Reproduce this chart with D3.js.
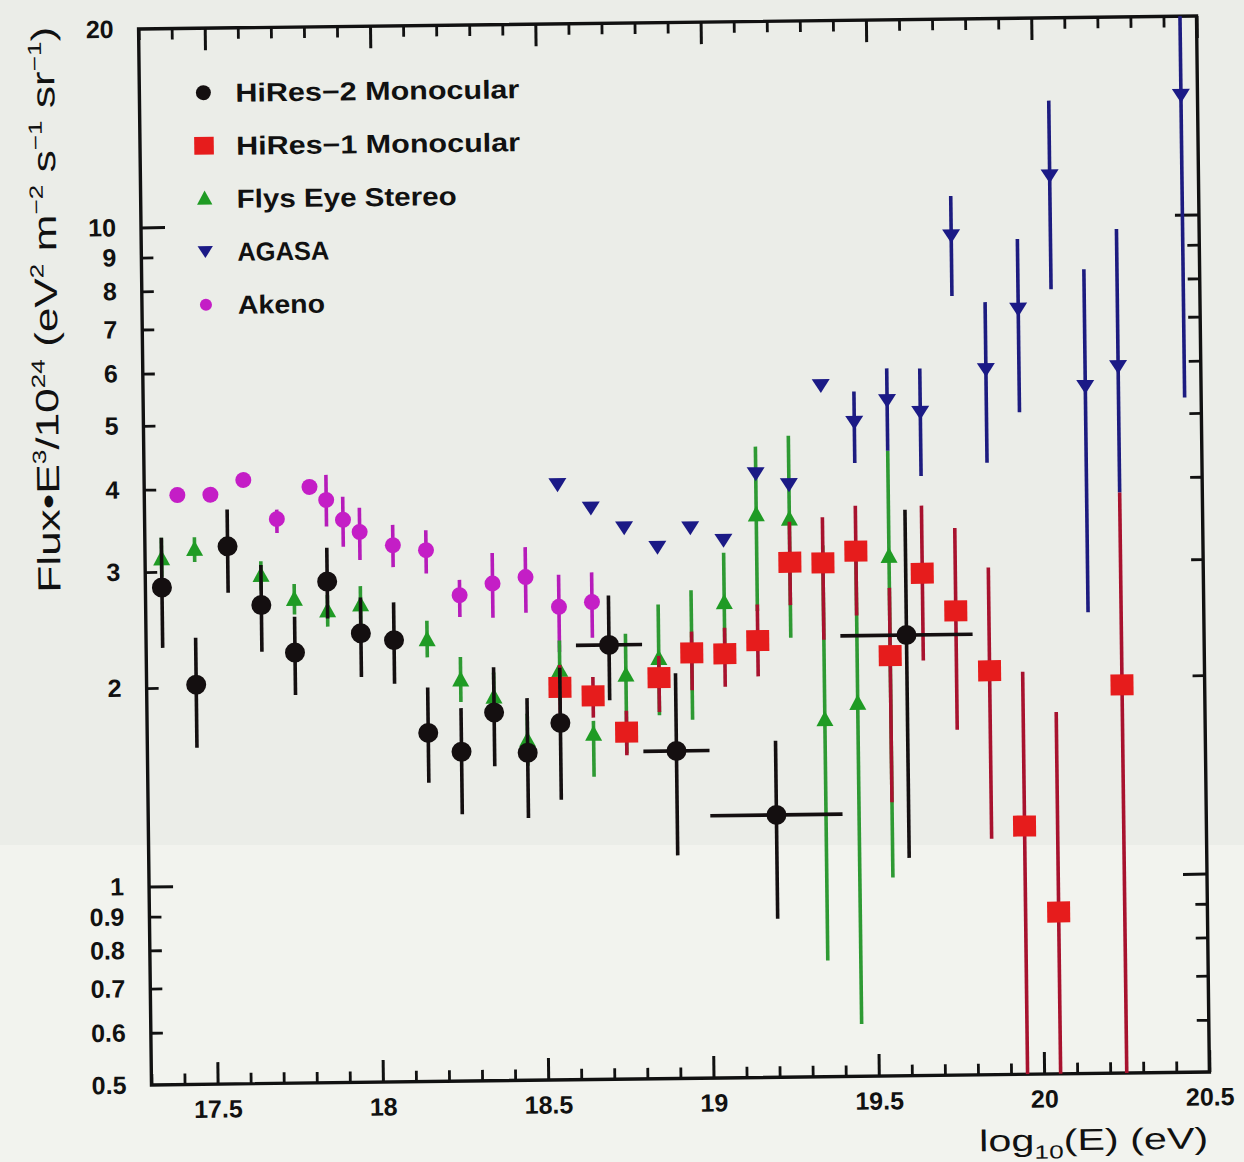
<!DOCTYPE html>
<html><head><meta charset="utf-8">
<script src="https://cdn.jsdelivr.net/npm/d3@7"></script>
<style>
html,body{margin:0;padding:0;background:#edefea;}
svg{display:block;}
text{font-family:"Liberation Sans",Arial,sans-serif;}
</style></head><body>
<svg id="chart" width="1244" height="1162"></svg>
<script>
// ---------------- DATA ----------------
// HiRes-2 Monocular (black circles)
const hr2X   = [17.35,17.45,17.55,17.65,17.75,17.85,17.95,18.05,18.15,18.25,18.35,18.45,18.55,18.7,18.9,19.2,19.6];
const hr2Y   = [2.84,2.02,3.27,2.66,2.25,2.88,2.40,2.34,1.69,1.58,1.81,1.57,1.74,2.28,1.57,1.25,2.33];
const hr2Lo  = [2.30,1.62,2.78,2.26,1.94,2.53,2.06,2.01,1.42,1.27,1.50,1.25,1.33,1.88,1.09,0.87,1.07];
const hr2Hi  = [3.38,2.38,3.72,3.06,2.55,3.24,2.72,2.67,1.98,1.84,2.12,1.90,2.11,2.71,2.06,1.62,3.61];
const hr2XErr= [0,0,0,0,0,0,0,0,0,0,0,0,0,0.1,0.1,0.2,0.2];

// HiRes-1 Monocular (red squares)
const hr1X  = [18.55,18.65,18.75,18.85,18.95,19.05,19.15,19.25,19.35,19.45,19.55,19.65,19.75,19.85,19.95,20.05,20.25];
const hr1Y  = [1.97,1.91,1.68,2.03,2.21,2.20,2.30,3.02,3.01,3.13,2.17,2.89,2.53,2.05,1.19,0.88,1.94];
const hr1Lo = [1.80,1.77,1.55,1.80,1.94,1.96,2.03,2.60,2.30,2.50,1.30,2.13,1.67,1.14,0.30,0.30,0.30];
const hr1Hi = [2.13,2.04,1.81,2.19,2.38,2.41,2.61,3.48,3.53,3.67,2.75,3.66,3.38,2.94,2.04,1.77,3.80];

// Fly's Eye Stereo (green triangles)
const feX  = [17.35,17.45,17.65,17.75,17.85,17.95,18.15,18.25,18.35,18.45,18.55,18.65,18.75,18.85,18.95,19.05,19.15,19.25,19.35,19.45,19.55];
const feY  = [3.14,3.24,2.95,2.71,2.60,2.65,2.34,2.03,1.91,1.64,2.09,1.67,2.05,2.17,2.20,2.63,3.57,3.51,1.74,1.84,3.07];
const feLo = [2.95,3.10,2.80,2.57,2.46,2.48,2.20,1.88,1.76,1.50,1.88,1.44,1.56,1.78,1.75,2.15,2.55,2.32,0.75,0.60,1.00];
const feHi = [3.38,3.38,3.10,2.86,2.75,2.83,2.50,2.20,2.08,1.80,2.32,1.75,2.37,2.62,2.75,3.13,4.53,4.70,3.20,3.09,4.44];

// AGASA (blue inverted triangles)
const agX  = [18.55,18.65,18.75,18.85,18.95,19.05,19.15,19.25,19.35,19.45,19.55,19.65,19.75,19.85,19.95,20.05,20.15,20.25,20.45];
const agY  = [4.00,3.68,3.43,3.20,3.42,3.27,4.12,3.96,5.59,4.91,5.29,5.07,9.38,5.87,7.24,11.52,5.51,5.90,15.17];
const agLo = [4.00,3.68,3.43,3.20,3.42,3.27,4.12,3.96,5.59,4.26,4.44,4.06,7.60,4.24,5.05,7.75,2.505,3.80,5.28];
const agHi = [4.00,3.68,3.43,3.20,3.42,3.27,4.12,3.96,5.59,5.47,5.92,5.91,10.78,7.43,9.25,14.98,8.30,9.54,30];

// Akeno (magenta)
const akX  = [17.4,17.5,17.6,17.7,17.8,17.85,17.9,17.95,18.05,18.15,18.25,18.35,18.45,18.55,18.65];
const akY  = [3.92,3.92,4.12,3.59,4.01,3.83,3.57,3.42,3.26,3.20,2.73,2.84,2.90,2.61,2.65];
const akLo = [3.92,3.92,4.12,3.42,4.01,3.49,3.25,3.10,3.02,2.95,2.53,2.52,2.56,2.23,2.34];
const akHi = [3.92,3.92,4.12,3.71,4.01,4.18,3.87,3.72,3.50,3.43,2.88,3.16,3.22,2.92,2.94];

// Axis ticks
const xMajorTicks = [17.5,18,18.5,19,19.5,20,20.5];
const xMinorTicks = [17.3,17.4,17.6,17.7,17.8,17.9,18.1,18.2,18.3,18.4,18.6,18.7,18.8,18.9,19.1,19.2,19.3,19.4,19.6,19.7,19.8,19.9,20.1,20.2,20.3,20.4];
const yLabelTicks = [0.5,0.6,0.7,0.8,0.9,1,2,3,4,5,6,7,8,9,10,20];
const yMajorTicks = [1,10];
const yMinorTicks = [0.6,0.7,0.8,0.9,2,3,4,5,6,7,8,9];

const legendLabels = ["HiRes\u22122 Monocular","HiRes\u22121 Monocular","Flys Eye Stereo","AGASA","Akeno"];

// ---------------- LAYOUT ----------------
const W=1244,H=1162;
const fr={left:145,right:1203,top:22.5,bottom:1078.5};
const svg=d3.select("#chart");
svg.append("rect").attr("width",W).attr("height",H).attr("fill","#ebede8");
svg.append("rect").attr("y",845).attr("width",W).attr("height",H-845).attr("fill","#f2f3ee");

const g=svg.append("g").attr("transform","rotate(-0.7,674,551)");

const x=d3.scaleLinear().domain([17.3,20.5]).range([fr.left,fr.right]);
const y=d3.scaleLog().domain([0.5,20]).range([fr.bottom,fr.top]);

g.append("clipPath").attr("id","clip").append("rect")
  .attr("x",fr.left).attr("y",fr.top).attr("width",fr.right-fr.left).attr("height",fr.bottom-fr.top);

const INK="#111";
function styleAxis(sel,fs){
  sel.select(".domain").remove();
  sel.attr("font-family",null).attr("font-size",null);
  sel.selectAll("line").attr("stroke",INK);
  sel.selectAll("text").attr("fill",INK).style("font-size",fs+"px").style("font-weight","bold");
}
// bottom
g.append("g").attr("transform",`translate(0,${fr.bottom})`)
 .call(d3.axisBottom(x).tickValues(xMajorTicks).tickSize(-22).tickPadding(11).tickFormat(d=>String(d)))
 .call(s=>{styleAxis(s,25);s.selectAll("line").attr("stroke-width",3);s.selectAll("text").attr("dy","0.9em");});
g.append("g").attr("transform",`translate(0,${fr.bottom})`)
 .call(d3.axisBottom(x).tickValues(xMinorTicks).tickSize(-11).tickFormat(""))
 .call(s=>{styleAxis(s,24);s.selectAll("line").attr("stroke-width",2.8);});
// top
g.append("g").attr("transform",`translate(0,${fr.top})`)
 .call(d3.axisTop(x).tickValues(xMajorTicks).tickSize(-22).tickFormat(""))
 .call(s=>{styleAxis(s,24);s.selectAll("line").attr("stroke-width",3);});
g.append("g").attr("transform",`translate(0,${fr.top})`)
 .call(d3.axisTop(x).tickValues(xMinorTicks).tickSize(-11).tickFormat(""))
 .call(s=>{styleAxis(s,24);s.selectAll("line").attr("stroke-width",2.8);});
// left
g.append("g").attr("transform",`translate(${fr.left},0)`)
 .call(d3.axisLeft(y).tickValues(yLabelTicks).tickSize(0).tickPadding(25).tickFormat(d=>String(d)))
 .call(s=>styleAxis(s,25));
g.append("g").attr("transform",`translate(${fr.left},0)`)
 .call(d3.axisLeft(y).tickValues(yMajorTicks).tickSize(-24).tickFormat(""))
 .call(s=>{styleAxis(s,24);s.selectAll("line").attr("stroke-width",3);});
g.append("g").attr("transform",`translate(${fr.left},0)`)
 .call(d3.axisLeft(y).tickValues(yMinorTicks).tickSize(-12).tickFormat(""))
 .call(s=>{styleAxis(s,24);s.selectAll("line").attr("stroke-width",2.8);});
// right
g.append("g").attr("transform",`translate(${fr.right},0)`)
 .call(d3.axisRight(y).tickValues(yMajorTicks).tickSize(-24).tickFormat(""))
 .call(s=>{styleAxis(s,24);s.selectAll("line").attr("stroke-width",3);});
g.append("g").attr("transform",`translate(${fr.right},0)`)
 .call(d3.axisRight(y).tickValues(yMinorTicks).tickSize(-12).tickFormat(""))
 .call(s=>{styleAxis(s,24);s.selectAll("line").attr("stroke-width",2.8);});

// frame
g.append("rect").attr("x",fr.left).attr("y",fr.top).attr("width",fr.right-fr.left).attr("height",fr.bottom-fr.top)
 .attr("fill","none").attr("stroke",INK).attr("stroke-width",3.4);

// ---------------- MARKERS ----------------
const shapes={
  circle:(s,c)=>s.append("circle").attr("r",10).attr("fill",c),
  square:(s,c)=>s.append("rect").attr("x",-11.5).attr("y",-10.5).attr("width",23).attr("height",21).attr("fill",c),
  tri:(s,c)=>s.append("path").attr("d","M0,-9L8.5,6.5L-8.5,6.5Z").attr("fill",c),
  tridown:(s,c)=>s.append("path").attr("d","M-9,-6.5L9,-6.5L0,7.5Z").attr("fill",c),
  dot:(s,c)=>s.append("circle").attr("r",8).attr("fill",c)
};

function drawSeries(xs,ys,lo,hi,xerr,col,ecol,shape){
  const data=xs.map((d,i)=>({x:d,y:ys[i],lo:lo[i],hi:hi[i],xe:xerr?xerr[i]:0}));
  const sg=g.append("g");
  const eg=sg.append("g").attr("clip-path","url(#clip)").attr("stroke",ecol).attr("stroke-width",3.6);
  eg.selectAll("line.v").data(data.filter(d=>d.hi>d.lo)).join("line").attr("class","v")
    .attr("x1",d=>x(d.x)).attr("x2",d=>x(d.x)).attr("y1",d=>y(d.lo)).attr("y2",d=>y(d.hi));
  eg.selectAll("line.h").data(data.filter(d=>d.xe>0)).join("line").attr("class","h")
    .attr("x1",d=>x(d.x-d.xe)).attr("x2",d=>x(d.x+d.xe)).attr("y1",d=>y(d.y)).attr("y2",d=>y(d.y));
  sg.selectAll("g.m").data(data).join("g").attr("class","m")
    .attr("transform",d=>`translate(${x(d.x)},${y(d.y)})`)
    .each(function(){shapes[shape](d3.select(this),col);});
}

const C={black:"#140f10",red:"#e61c1c",redE:"#a8122e",green:"#1f9b24",greenE:"#2e9a33",blue:"#1b1a86",blueE:"#1d1c80",mag:"#c41ec6",magE:"#b61cba"};

drawSeries(akX,akY,akLo,akHi,null,C.mag,C.magE,"dot");
drawSeries(feX,feY,feLo,feHi,null,C.green,C.greenE,"tri");
drawSeries(agX,agY,agLo,agHi,null,C.blue,C.blueE,"tridown");
drawSeries(hr1X,hr1Y,hr1Lo,hr1Hi,null,C.red,C.redE,"square");
drawSeries(hr2X,hr2Y,hr2Lo,hr2Hi,hr2XErr,C.black,C.black,"circle");

// ---------------- LEGEND ----------------
const legShapes=["circle","square","tri","tridown","dot"];
const legCols=[C.black,C.red,C.green,C.blue,C.mag];
const legScale=[0.75,0.85,0.9,0.85,0.75];
const legW=[284,284,220,92,87];
const legY=[87,140,193,246,299];
legendLabels.forEach((lab,i)=>{
  const lg=g.append("g").attr("transform",`translate(209,${legY[i]})`);
  const m=lg.append("g").attr("transform",`scale(${legScale[i]})`);
  shapes[legShapes[i]](m,legCols[i]);
  lg.append("text").attr("x",32).attr("y",0).attr("dy","0.36em")
    .attr("textLength",legW[i]).attr("lengthAdjust","spacingAndGlyphs")
    .style("font-size","26px").style("font-weight","bold").attr("fill",INK).text(lab);
});

// ---------------- AXIS TITLES ----------------
const yt=g.append("text").attr("transform","translate(60,302) rotate(-90)")
  .attr("text-anchor","middle").attr("fill",INK).style("font-size","32px")
  .attr("textLength",566).attr("lengthAdjust","spacingAndGlyphs");
const parts=[["Flux\u2022E",0],["3",1],["/10",0],["24",1],[" (eV",0],["2",1],[" m",0],["\u22122",1],[" s",0],["\u22121",1],[" sr",0],["\u22121",1],[")",0]];
let prevSup=0;
parts.forEach(([t,sup])=>{
  const ts=yt.append("tspan").text(t);
  if(sup){ts.style("font-size","19px"); if(!prevSup) ts.attr("dy",-13);}
  else if(prevSup){ts.attr("dy",13);}
  prevSup=sup;
});

const xt=g.append("text").attr("x",1201).attr("y",1155).attr("text-anchor","end")
  .attr("fill",INK).style("font-size","30px")
  .attr("textLength",229).attr("lengthAdjust","spacingAndGlyphs");
xt.append("tspan").text("log");
xt.append("tspan").attr("dy",8).style("font-size","19px").text("10");
xt.append("tspan").attr("dy",-8).text("(E) (eV)");
</script>
</body></html>
